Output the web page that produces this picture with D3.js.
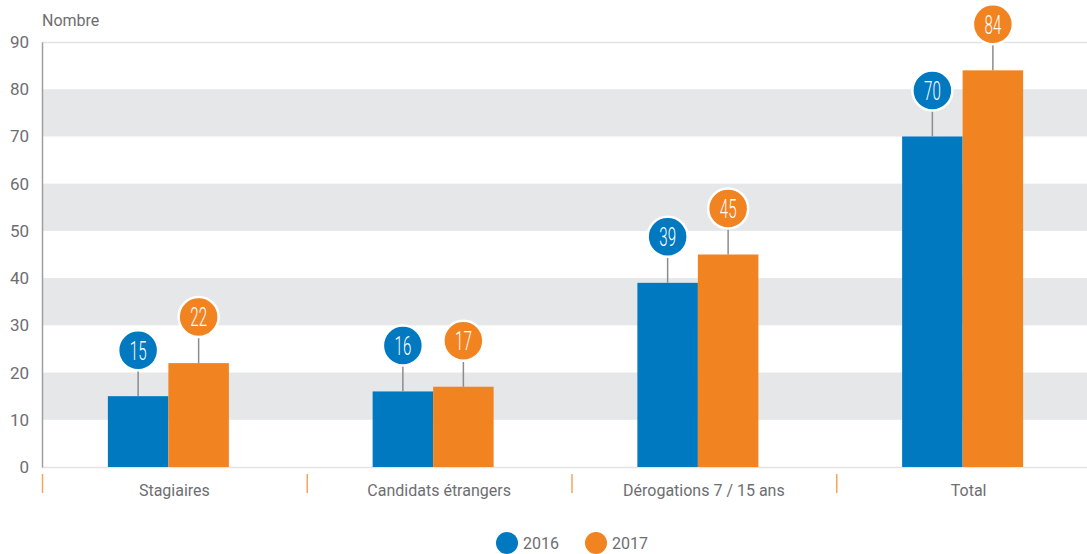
<!DOCTYPE html>
<html>
<head>
<meta charset="utf-8">
<script src="https://cdn.jsdelivr.net/npm/d3@7"></script>
<style>
  body { margin: 0; background: #fff; }
  text { font-family: Roboto, "Noto Sans", sans-serif; }
</style>
</head>
<body>
<div id="plot"></div>
<script>
// data
const categories = ['Stagiaires', 'Candidats étrangers', 'Dérogations 7 / 15 ans', 'Total'];
const years = ['2016', '2017'];
const values2016 = [15, 16, 39, 70];
const values2017 = [22, 17, 45, 84];
const yTicks = [0, 10, 20, 30, 40, 50, 60, 70, 80, 90];
const bandStarts = [10, 30, 50, 70];

const width = 1087;
const height = 554;
const plotLeft = 42;
const plotTop = 42;
const plotBottom = 467;
const barW = 60.5;
const colors = {'2016': '#0079c1', '2017': '#f28321'};
const textGrey = '#6d6e71';

const svg = d3.select('#plot')
  .append('svg')
  .attr('width', width)
  .attr('height', height);

const y = d3.scaleLinear()
  .domain([0, 90])
  .range([plotBottom, plotTop]);

const x = d3.scaleBand()
  .domain(categories)
  .range([plotLeft, 1101]);

const x1 = d3.scaleBand()
  .domain(years)
  .range([-barW, barW]);

// grey bands
svg.selectAll('rect.band')
  .data(bandStarts)
  .enter()
  .append('rect')
  .attr('class', 'band')
  .attr('x', plotLeft)
  .attr('width', width - plotLeft)
  .attr('y', d => y(d + 10))
  .attr('height', d => y(d) - y(d + 10))
  .style('fill', '#e6e7e8');

// top and bottom lines
svg.selectAll('line.grid')
  .data([0, 90])
  .enter()
  .append('line')
  .attr('class', 'grid')
  .attr('x1', plotLeft)
  .attr('x2', width)
  .attr('y1', d => y(d) + 0.5)
  .attr('y2', d => y(d) + 0.5)
  .style('stroke', '#e2e3e4')
  .style('stroke-width', 1.5);

// y axis
const yAxis = d3.axisLeft(y).tickValues(yTicks).tickSize(0).tickPadding(13);
const gy = svg.append('g')
  .attr('transform', `translate(${plotLeft},0)`)
  .call(yAxis);
gy.select('.domain').style('stroke', '#9d9fa2').style('stroke-width', 1.5);
gy.selectAll('text')
  .style('font-size', '17px')
  .style('fill', textGrey);

svg.append('text')
  .attr('x', plotLeft)
  .attr('y', 26)
  .text('Nombre')
  .style('font-size', '16px')
  .style('fill', textGrey);

// category axis
const xAxis = d3.axisBottom(x).tickSize(0).tickPadding(17);
const gx = svg.append('g')
  .attr('transform', `translate(0,${plotBottom + 1})`)
  .call(xAxis);
gx.select('.domain').remove();
gx.selectAll('text')
  .style('font-size', '16px')
  .style('fill', textGrey);

// orange separators
svg.selectAll('line.sep')
  .data(categories)
  .enter()
  .append('line')
  .attr('class', 'sep')
  .attr('x1', d => x(d) + 0.5)
  .attr('x2', d => x(d) + 0.5)
  .attr('y1', 474)
  .attr('y2', 493)
  .style('stroke', '#f7a45c')
  .style('stroke-width', 1.5);

// bars
const rows = [];
categories.forEach((c, i) => {
  rows.push({cat: c, year: '2016', v: values2016[i]});
  rows.push({cat: c, year: '2017', v: values2017[i]});
});
const cx = d => x(d.cat) + x.bandwidth() / 2 - 6 + x1(d.year);

svg.selectAll('rect.bar')
  .data(rows)
  .enter()
  .append('rect')
  .attr('class', 'bar')
  .attr('x', d => cx(d))
  .attr('width', barW)
  .attr('y', d => y(d.v))
  .attr('height', d => y(0) - y(d.v))
  .style('fill', d => colors[d.year]);

// label pins
const pins = svg.selectAll('g.pin')
  .data(rows)
  .enter()
  .append('g')
  .attr('class', 'pin')
  .attr('transform', d => `translate(${cx(d) + barW / 2},${y(d.v) - 46})`);

pins.append('line')
  .attr('y1', 20)
  .attr('y2', 46)
  .style('stroke', '#8a8c8e')
  .style('stroke-width', 1.5);

pins.append('circle')
  .attr('r', 20)
  .style('fill', d => colors[d.year])
  .style('stroke', '#fff')
  .style('stroke-width', 2.5);

pins.append('text')
  .attr('transform', 'scale(0.58,1)')
  .attr('text-anchor', 'middle')
  .attr('dy', '0.36em')
  .text(d => d.v)
  .style('font-size', '26px')
  .style('font-weight', 300)
  .style('fill', '#fff');

// legend
const legend = svg.selectAll('g.legend')
  .data(years)
  .enter()
  .append('g')
  .attr('class', 'legend')
  .attr('transform', (d, i) => `translate(${507 + i * 89},543)`);

legend.append('circle')
  .attr('r', 11)
  .style('fill', d => colors[d]);

legend.append('text')
  .attr('x', 16)
  .attr('dy', '0.36em')
  .text(d => d)
  .style('font-size', '16px')
  .style('fill', textGrey);
</script>
</body>
</html>
